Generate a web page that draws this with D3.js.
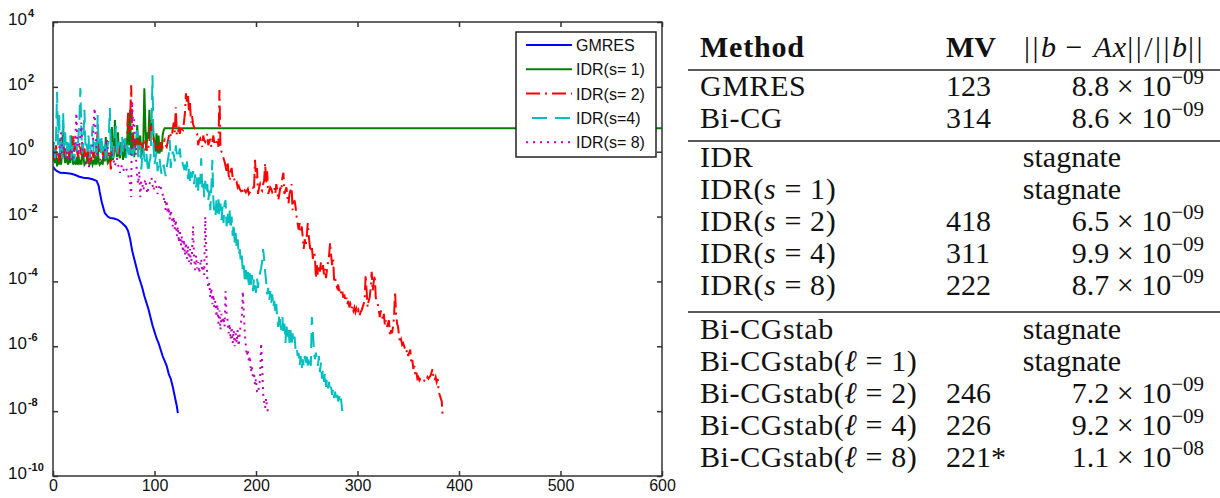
<!DOCTYPE html>
<html>
<head>
<meta charset="utf-8">
<script src="https://cdn.jsdelivr.net/npm/d3@7"></script>
<style>
  body { margin: 0; background: #fff; }
  svg { display: block; }
</style>
</head>
<body>
<div id="app"></div>
<script>
(function (d3) {

  'use strict'

  // GMRES: [matrix-vector products, log10 of relative residual]
  const gmres = [[0,-0.46],[2,-0.55],[4,-0.6],[7,-0.65],[12,-0.66],[18,-0.68],[22,-0.72],[26,-0.77],[30,-0.8],[35,-0.82],[39,-0.85],[43,-0.9],[45,-1.05],[46,-1.24],[48,-1.55],[51,-1.89],[54,-2.0],[56,-2.04],[60,-2.06],[64,-2.1],[68,-2.2],[72,-2.32],[74,-2.45],[76,-2.7],[78,-3.05],[80,-3.3],[82,-3.55],[84,-3.8],[86,-4.0],[88,-4.2],[90,-4.45],[92,-4.65],[94,-4.85],[96,-5.1],[98,-5.35],[100,-5.55],[102,-5.75],[104,-5.9],[106,-6.1],[108,-6.3],[110,-6.45],[112,-6.6],[114,-6.85],[116,-7.0],[118,-7.25],[120,-7.55],[122,-7.85],[123,-8.06]]

  // IDR runs: log10 of relative residual, one value per matrix-vector product (index = MV)
  const idr1Log = [
    -0.3, 0.05, -0.35, -0.1, -0.45, -0.2, -0.4, 0.1, -0.4, 0.0,
    0.82, -0.1, -0.35, -0.2, -0.3, -0.4, 0.0, -0.35, 0.5, -0.2,
    -0.4, -0.3, -0.35, -0.25, -0.4, -0.1, -0.35, -0.3, -0.4, 0.26,
    -0.2, -0.4, -0.35, -0.3, 0.0, -0.33, -0.4, -0.35, -0.25, -0.4,
    -0.3, -0.35, -0.1, -0.4, 0.15, -0.3, -0.4, -0.35, -0.3, -0.4,
    0.1, -0.3, 0.45, -0.2, -0.35, -0.3, -0.1, -0.3, 0.76, -0.25,
    -0.1, 0.98, 0.2, -0.17, 0.6, -0.1, -0.2, 0.3, 0.1, -0.25,
    0.2, -0.17, 0.0, 0.3, 1.03, 0.2, 1.29, -0.1, 0.3, 0.6,
    -0.17, 0.4, 0.2, 0.82, 0.05, 0.3, 0.5, -0.17, 0.1, 0.3,
    1.96, 0.8, 0.05, 0.6, 0.4, 1.29, 0.45, 0.7, 1.0, 0.5,
    0.2, 0.0, 0.57, -0.05, 0.5, -0.05, 0.3, 0.0, 0.5, 0.65,
    0.72
  ]
  const idr1Stagnation = [[600, 0.72]]

  const idr2Log = [
    -0.2, 0.1, -0.25, 0.2, -0.1, 0.0, -0.3, 0.15, 0.1, -0.2,
    0.05, 0.2, -0.1, 0.1, 0.0, -0.3, 0.05, 0.1, -0.15, -0.1,
    0.5, 0.0, 0.45, 0.1, -0.05, -0.2, 0.15, 0.1, -0.1, 0.25,
    0.0, 0.1, -0.2, 0.05, 0.1, -0.35, 0.0, -0.3, 0.1, -0.05,
    -0.2, 0.0, -0.1, 0.15, 0.67, 0.2, 0.0, 0.1, 0.3, -0.1,
    0.2, 0.05, -0.2, 0.0, 0.1, -0.05, -0.1, -0.55, 0.0, 0.2,
    -0.05, 0.1, 0.3, -0.1, 0.15, 0.2, -0.05, 0.0, 0.25, 0.3,
    0.05, 0.3, 0.5, 0.57, 1.2, 0.6, 0.9, 2.05, 0.6, 0.4,
    0.2, 0.0, 0.1, 0.4, 0.0, 0.2, 0.3, 0.1, 0.2, 0.1,
    0.0, 0.35, 0.1, 0.0, 0.15, 0.2, 0.98, 0.6, 0.8, 0.4,
    0.3, 0.2, 0.1, 0.25, 0.2, 0.0, 0.3, 0.2, 0.15, 0.3,
    0.36, 0.2, 0.15, 0.3, 0.45, 0.6, 0.5, 0.45, 0.7, 0.9,
    0.6, 1.37, 0.5, 0.6, 0.7, 0.55, 0.8, 0.7, 0.67, 0.9,
    1.2, 1.8, 1.5, 1.77, 1.2, 1.5, 0.9, 1.1, 0.85, 0.75,
    0.7, 0.6, 0.55, 0.2, 0.35, 0.4, 0.25, 0.15, 0.5, 0.35,
    0.3, 0.4, 0.55, 0.2, 0.3, 0.4, 0.15, 0.3, 0.5, 0.25,
    0.2, 0.3, 0.4, 0.15, 1.9, 0.15, 0.0, -0.05, -0.2, -0.3,
    -0.45, -0.6, -0.3, -0.7, -0.9, -0.6, -0.5, -0.8, -0.75, -0.9,
    -1.0, -0.95, -1.1, -1.05, -1.15, -1.2, -1.1, -1.25, -1.3, -1.2,
    -1.25, -1.2, -1.15, -1.3, -1.25, -1.2, -1.1, -1.1, -1.2, -0.25,
    -0.8, -0.5, -1.3, -1.1, -1.0, -1.15, -1.2, -1.0, -0.9, -0.35,
    -1.0, -0.6, -1.3, -1.2, -1.1, -1.15, -1.25, -1.2, -1.1, -1.3,
    -1.0, -1.2, -1.5, -1.3, -1.1, -1.2, -0.8, -0.65, -1.3, -1.2,
    -1.1, -1.4, -1.6, -1.3, -1.2, -1.0, -1.8, -1.6, -1.5, -1.7,
    -2.0, -2.2, -2.4, -2.2, -2.5, -2.3, -2.6, -3.0, -2.7, -2.9,
    -2.6, -2.2, -2.6, -2.9, -3.1, -2.9, -3.3, -3.1, -3.2, -3.9,
    -3.5, -3.8, -3.5, -3.7, -3.4, -3.7, -3.5, -3.8, -3.6, -3.9,
    -3.6, -3.4, -3.2, -2.8, -3.2, -3.5, -3.3, -4.0, -3.9, -4.1,
    -4.2, -4.1, -4.3, -4.2, -4.4, -4.3, -4.5, -4.4, -4.6, -4.5,
    -4.7, -4.6, -4.8, -4.7, -4.85, -4.75, -4.9, -4.8, -4.95, -4.85,
    -5.0, -4.9, -5.05, -4.95, -4.9, -4.8, -4.7, -4.6, -3.8, -4.3,
    -4.8, -4.6, -4.5, -4.2, -3.7, -4.3, -4.0, -3.8, -4.5, -4.6,
    -4.7, -4.9, -5.1, -4.9, -5.0, -5.2, -5.0, -5.35, -5.2, -5.4,
    -5.3, -5.2, -5.7, -5.5, -5.6, -5.4, -5.1, -4.3, -5.0, -5.3,
    -5.4, -5.7, -5.9, -5.8, -5.95, -5.9, -6.0, -6.1, -6.2, -6.1,
    -6.3, -6.2, -6.1, -6.5, -6.4, -6.7, -6.6, -6.9, -6.8, -7.0,
    -6.95, -7.05, -7.0, -7.0, -7.05, -7.1, -7.05, -7.0, -7.05, -6.95,
    -7.0, -6.95, -6.9, -6.8, -6.7, -7.0, -7.05, -6.95, -7.1, -7.0,
    -7.4, -7.5, -7.6, -7.7, -8.19
  ]

  const idr4Log = [
    -0.1, 0.3, -0.2, 0.5, 1.85, 0.2, 1.2, -0.1, 0.3, -0.2,
    1.2, 0.15, 0.6, -0.1, 0.2, 0.4, 0.0, 0.5, -0.2, 0.1,
    0.2, -0.3, 0.1, 0.3, 0.0, 0.4, 1.0, 1.96, 0.5, -0.05,
    0.4, 1.29, 0.15, 0.3, 0.0, 0.5, -0.2, 0.1, 0.3, 0.8,
    0.0, 0.3, 0.2, -0.2, 1.13, 0.2, 0.4, -0.1, 0.5, 0.0,
    0.2, 0.3, -0.3, 0.1, 0.2, 0.5, 1.35, 0.0, 0.3, -0.2,
    0.2, 0.4, 0.8, -0.15, 0.1, 0.3, 0.0, -0.1, 0.5, 0.0,
    0.3, 0.4, -0.2, 0.1, 0.3, -0.1, 0.2, 0.2, -0.05, -0.1,
    0.1, 0.2, 0.3, 0.67, -0.17, 0.1, 0.2, -0.55, -0.1, 0.1,
    -0.2, -0.3, -0.05, -0.4, -0.65, -0.3, -0.2, 0.6, 2.36, 0.2,
    -0.4, -0.2, 0.0, -0.6, -0.4, -0.2, -0.5, -0.7, -0.6, -0.4,
    -0.6, -0.75, -0.5, -0.3, -0.1, 0.36, -0.5, -0.2, 0.0, -0.1,
    -0.3, 0.2, -0.1, -0.2, -0.05, 0.1, -0.3, -0.25, -0.4, -0.5,
    -0.4, -0.7, -0.3, -0.85, -0.5, -0.9, -0.5, -0.8, -0.6, -1.0,
    -0.7, -1.1, -0.8, -1.2, -0.7, -1.0, -0.2, -1.1, -0.9, -1.4,
    -0.9, -1.3, -1.0, -1.5, -1.2, -1.8, -1.1, -0.25, -1.5, -1.9,
    -2.0, -1.5, -1.9, -1.4, -2.0, -1.6, -2.1, -1.7, -2.2, -1.6,
    -1.5, -2.3, -1.9, -2.2, -1.8, -2.4, -2.0, -2.6, -2.2, -2.8,
    -2.5, -3.0, -2.7, -3.2, -3.0, -3.4, -3.2, -3.7, -3.5, -4.0,
    -3.65, -4.0, -3.7, -4.2, -3.75, -4.1, -3.8, -4.3, -3.9, -4.2,
    -4.35, -3.9, -4.2, -3.8, -3.75, -3.6, -3.4, -3.0, -3.3, -3.7,
    -4.0, -4.4, -4.2, -4.6, -4.3, -4.7, -4.4, -4.8, -4.6, -5.0,
    -4.7, -5.2, -5.4, -5.0, -5.3, -5.5, -5.1, -5.6, -5.3, -5.9,
    -5.3, -5.7, -5.4, -5.9, -5.5, -6.0, -5.6, -5.9, -5.7, -6.1,
    -6.0, -6.3, -6.2, -6.6, -6.3, -6.7, -6.4, -6.6, -6.3, -6.5,
    -6.2, -6.6, -6.3, -6.5, -6.6, -5.1, -5.5, -6.1, -6.4, -6.2,
    -6.4, -6.6, -6.3, -6.8, -6.5, -7.0, -6.7, -7.1, -6.8, -7.25,
    -7.0, -7.3, -7.1, -7.4, -7.25, -7.5, -7.3, -7.6, -7.4, -7.7,
    -7.5, -7.7, -7.6, -7.45, -7.7, -8.0
  ]

  const idr8Log = [
    -0.1, 0.0, 0.05, -0.25, -0.1, -0.1, 0.1, 0.2, 0.6, -0.05,
    0.1, 0.2, -0.1, -0.2, 0.0, -0.2, -0.3, 0.0, 0.1, -0.1,
    -0.2, 0.1, 0.45, 1.2, 0.3, -0.1, 0.2, 0.5, 0.9, 0.0,
    -0.1, -0.2, -0.3, -0.35, -0.4, -0.5, -0.4, -0.3, 0.0, 0.2,
    0.8, 1.35, 0.5, 0.0, -0.1, -0.1, -0.2, -0.3, -0.25, -0.2,
    -0.1, 0.0, 0.2, 0.4, 0.1, -0.1, -0.2, -0.15, -0.1, -0.2,
    -0.3, -0.45, -0.3, -0.2, -0.4, -0.5, -0.65, -0.5, -0.4, -0.5,
    -0.6, -0.55, -0.5, -0.6, -0.7, -0.85, -1.0, -1.4, 1.55, 0.8,
    1.0, 0.2, -0.3, -0.8, -1.0, -0.6, -1.4, -0.9, -1.0, -1.2,
    -1.0, -0.85, -1.1, -1.3, -1.1, -1.0, -0.9, -0.8, -1.0, -1.2,
    -1.0, -0.9, -1.1, -1.3, -1.2, -1.0, -1.1, -1.2, -1.3, -1.5,
    -1.4, -1.8, -1.5, -1.9, -1.7, -2.1, -1.8, -2.0, -2.3, -2.0,
    -2.4, -2.1, -2.6, -2.3, -2.8, -2.4, -2.9, -2.6, -3.1, -2.7,
    -3.2, -2.8, -3.3, -2.9, -3.4, -3.0, -3.5, -3.1, -2.3, -3.3,
    -3.65, -3.2, -3.6, -3.4, -3.75, -3.5, -3.3, -3.7, -3.5, -3.8,
    -2.0, -3.0, -3.9, -4.2, -4.05, -4.5, -4.2, -4.7, -4.4, -4.8,
    -4.6, -5.1, -4.7, -5.3, -4.9, -5.5, -5.0, -5.3, -5.1, -5.4,
    -4.3, -5.0, -5.2, -5.6, -5.3, -5.8, -5.4, -5.9, -5.5, -6.0,
    -5.6, -5.9, -5.5, -6.0, -5.6, -5.3, -5.1, -4.3, -5.0, -5.6,
    -6.0, -6.3, -6.1, -6.5, -6.3, -6.8, -6.6, -7.0, -6.8, -7.2,
    -7.0, -7.4, -7.45, -7.2, -7.0, -5.9, -6.5, -7.45, -7.7, -7.9,
    -7.6, -7.9, -8.06
  ]

  const seriesNames = ['GMRES', 'IDR(s= 1)', 'IDR(s= 2)', 'IDR(s=4)', 'IDR(s= 8)']
  const seriesColors = ['#0000ff', '#008000', '#ff0000', '#00bfbf', '#bf00bf']
  const seriesDash = [null, null, '14,5,2,5', '15,8', '2,5']

  const xTicks = [0, 100, 200, 300, 400, 500, 600]
  const yTickExps = [-10, -8, -6, -4, -2, 0, 2, 4]

  // table on the right
  const methodBase = ['GMRES', 'Bi-CG', 'IDR', 'IDR', 'IDR', 'IDR', 'IDR', 'Bi-CGstab', 'Bi-CGstab', 'Bi-CGstab', 'Bi-CGstab', 'Bi-CGstab']
  const methodSym = [null, null, null, 's', 's', 's', 's', null, 'ℓ', 'ℓ', 'ℓ', 'ℓ']
  const methodParam = [null, null, null, 1, 2, 4, 8, null, 1, 2, 4, 8]
  const mvCounts = ['123', '314', '', '', '418', '311', '222', '', '', '246', '226', '221*']
  const resMantissa = ['8.8', '8.6', null, null, '6.5', '9.9', '8.7', null, null, '7.2', '9.2', '1.1']
  const resExponent = ['−09', '−09', null, null, '−09', '−09', '−09', null, null, '−09', '−09', '−08']

  const W = 1220
  const H = 498

  const svg = d3.select('#app')
    .append('svg')
    .attr('width', W)
    .attr('height', H)

  // ---------------- plot ----------------
  const plot = {left: 53, right: 662, top: 22, bottom: 476}

  const x = d3.scaleLinear()
    .domain([0, 600])
    .range([plot.left, plot.right])

  const y = d3.scaleLog()
    .domain([1e-10, 1e4])
    .range([plot.bottom, plot.top])

  const perMV = arr => arr.map((v, i) => [i, v])

  const allSeries = [
    gmres,
    perMV(idr1Log).concat(idr1Stagnation),
    perMV(idr2Log),
    perMV(idr4Log),
    perMV(idr8Log)
  ]

  const line = d3.line()
    .x(d => x(d[0]))
    .y(d => y(Math.pow(10, d[1])))

  svg.append('defs')
    .append('clipPath')
    .attr('id', 'plotclip')
    .append('rect')
    .attr('x', plot.left)
    .attr('y', plot.top)
    .attr('width', plot.right - plot.left)
    .attr('height', plot.bottom - plot.top)

  svg.append('g')
    .attr('clip-path', 'url(#plotclip)')
    .selectAll('path')
    .data(allSeries)
    .enter()
    .append('path')
    .attr('d', line)
    .attr('fill', 'none')
    .attr('stroke', (d, i) => seriesColors[i])
    .attr('stroke-width', 2)
    .attr('stroke-dasharray', (d, i) => seriesDash[i])

  const axisColor = '#333'
  const sans = '"Liberation Sans", Arial, sans-serif'

  // inward ticks on all four sides
  const yVals = yTickExps.map(e => Math.pow(10, e))
  const xAxisB = d3.axisBottom(x).tickValues(xTicks).tickSizeInner(-5).tickSizeOuter(0).tickPadding(4)
  const xAxisT = d3.axisTop(x).tickValues(xTicks).tickSizeInner(-5).tickSizeOuter(0).tickFormat('')
  const yAxisL = d3.axisLeft(y).tickValues(yVals).tickSizeInner(-5).tickSizeOuter(0).tickFormat('')
  const yAxisR = d3.axisRight(y).tickValues(yVals).tickSizeInner(-5).tickSizeOuter(0).tickFormat('')

  const gB = svg.append('g').attr('transform', 'translate(0,' + plot.bottom + ')').call(xAxisB)
  svg.append('g').attr('transform', 'translate(0,' + plot.top + ')').call(xAxisT)
  svg.append('g').attr('transform', 'translate(' + plot.left + ',0)').call(yAxisL)
  svg.append('g').attr('transform', 'translate(' + plot.right + ',0)').call(yAxisR)

  svg.selectAll('.domain').remove()
  svg.selectAll('.tick line').attr('stroke', axisColor).attr('stroke-width', 1.5)

  gB.selectAll('text')
    .attr('fill', '#111')
    .style('font-family', sans)
    .style('font-size', '16px')

  // y labels: 10 with a raised exponent
  const yLab = svg.append('g')
    .selectAll('text')
    .data(yTickExps)
    .enter()
    .append('text')
    .attr('x', 8)
    .attr('y', d => y(Math.pow(10, d)) + 3)
    .attr('fill', '#111')
    .style('font-family', sans)
    .style('font-size', '17px')
  yLab.append('tspan').text('10')
  yLab.append('tspan')
    .attr('dy', -8)
    .attr('dx', 1)
    .style('font-size', '11px')
    .style('font-weight', 'bold')
    .text(d => d < 0 ? '-' + Math.abs(d) : String(d))

  svg.append('rect')
    .attr('x', plot.left)
    .attr('y', plot.top)
    .attr('width', plot.right - plot.left)
    .attr('height', plot.bottom - plot.top)
    .attr('fill', 'none')
    .attr('stroke', axisColor)
    .attr('stroke-width', 1.5)

  // legend
  const leg = {x: 516, y: 32, w: 140, h: 125, row: 24.3, first: 45}
  svg.append('rect')
    .attr('x', leg.x)
    .attr('y', leg.y)
    .attr('width', leg.w)
    .attr('height', leg.h)
    .attr('fill', '#fff')
    .attr('stroke', '#222')
    .attr('stroke-width', 1.5)

  const legRows = svg.append('g')
    .selectAll('g')
    .data(seriesNames)
    .enter()
    .append('g')
    .attr('transform', (d, i) => 'translate(0,' + (leg.first + i * leg.row) + ')')

  legRows.append('line')
    .attr('x1', 526)
    .attr('x2', 572)
    .attr('stroke', (d, i) => seriesColors[i])
    .attr('stroke-width', 2)
    .attr('stroke-dasharray', (d, i) => seriesDash[i])
    .attr('stroke-dashoffset', (d, i) => i === 3 ? -6 : 0)

  legRows.append('text')
    .attr('x', 576)
    .attr('y', 6)
    .attr('fill', '#111')
    .style('font-family', sans)
    .style('font-size', '16px')
    .text(d => d)

  // ---------------- table ----------------
  const serif = '"Liberation Serif", "Times New Roman", serif'
  const fs = 30
  const tab = {left: 700, mv: 946, right: 1204, stag: 1072}
  const headerY = 57
  const rowY = [96, 128, 167, 199, 231, 263, 295, 339, 371, 403, 435, 467]
  const rules = [70, 141, 312]

  const tg = svg.append('g')
    .style('font-family', serif)
    .style('font-size', fs + 'px')
    .attr('fill', '#111')

  tg.append('text').attr('x', tab.left).attr('y', headerY).style('font-weight', 'bold').style('letter-spacing', '0.8px').text('Method')
  tg.append('text').attr('x', tab.mv).attr('y', headerY).style('font-weight', 'bold').text('MV')

  // ‖b − Ax‖/‖b‖ : double bars drawn as two thin bars with a small gap
  const norm = tg.append('text')
    .attr('x', 1205)
    .attr('y', headerY)
    .attr('text-anchor', 'end')
  const normParts = [['||', false], ['b', true], ['\u2009−\u2009', false], ['Ax', true], ['||/||', false], ['b', true], ['||', false]]
  normParts.forEach(function (p) {
    norm.append('tspan')
      .style('font-style', p[1] ? 'italic' : 'normal')
      .style('letter-spacing', p[1] ? '1px' : '2.5px')
      .text(p[0])
  })

  tg.selectAll('line.rule')
    .data(rules)
    .enter()
    .append('line')
    .attr('class', 'rule')
    .attr('x1', 688)
    .attr('x2', W)
    .attr('y1', d => d)
    .attr('y2', d => d)
    .attr('stroke', '#222')
    .attr('stroke-width', 1.5)

  const rows = tg.selectAll('g.row')
    .data(methodBase)
    .enter()
    .append('g')
    .attr('class', 'row')

  rows.append('text')
    .attr('x', tab.left)
    .attr('y', (d, i) => rowY[i])
    .style('letter-spacing', '0.6px')
    .each(function (d, i) {
      const t = d3.select(this)
      if (methodSym[i] === null) {
        t.text(d)
        return
      }
      t.append('tspan').text(d + '(')
      t.append('tspan').style('font-style', 'italic').text(methodSym[i])
      t.append('tspan').text(' = ' + methodParam[i] + ')')
    })

  rows.append('text')
    .attr('x', tab.mv)
    .attr('y', (d, i) => rowY[i])
    .text((d, i) => mvCounts[i])

  rows.each(function (d, i) {
    const g = d3.select(this)
    if (resMantissa[i] === null) {
      g.append('text')
        .attr('x', tab.stag)
        .attr('y', rowY[i])
        .attr('text-anchor', 'middle')
        .text('stagnate')
      return
    }
    const t = g.append('text')
      .attr('x', tab.right)
      .attr('y', rowY[i])
      .attr('text-anchor', 'end')
    t.append('tspan').text(resMantissa[i] + ' × 10')
    t.append('tspan')
      .attr('dy', -12)
      .style('font-size', '21px')
      .text(resExponent[i])
  })

}(d3))
</script>
</body>
</html>
